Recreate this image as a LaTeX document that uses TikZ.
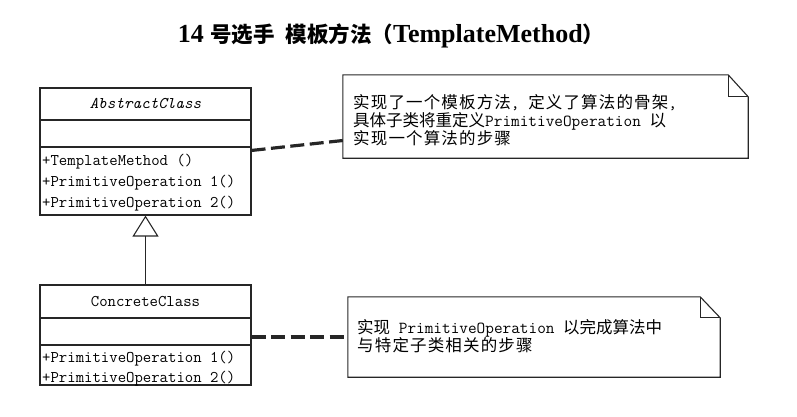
\documentclass[tikz,border=0pt]{standalone}
\usepackage{fontspec}
\setmainfont{Liberation Serif}
\newfontfamily\cjk{Noto Sans CJK SC}
\newfontfamily\cjks[LetterSpace=7]{Noto Sans CJK SC}
\usetikzlibrary{arrows.meta}
\newcommand{\cj}[1]{{\cjk\fontsize{16.5}{18}\selectfont #1}}
\newcommand{\cjw}[1]{{\cjks\fontsize{16.5}{18}\selectfont #1}}
\begin{document}
\begin{tikzpicture}[x=1pt,y=-1pt,
  line/.style={draw=black!85, line width=1.1pt},
  box/.style={line, inner sep=0pt, minimum width=211pt},
  member/.style={anchor=base west, inner sep=0pt, font=\fontsize{16.3}{18}\ttfamily},
  notetext/.style={anchor=base west, inner sep=0pt, font=\fontsize{16.8}{18}\ttfamily},
  conn/.style={draw=black!85, line width=3.2pt, dash pattern=on 14pt off 5.5pt},
  inherit/.style={line, -{Triangle[open, length=21pt, width=26pt, line width=1.1pt]}},
  noteframe/.style={inner sep=0pt}
  ]
\useasboundingbox (0,0) rectangle (797,416);
% title
\node[inner sep=0pt, anchor=base] (title) at (391,42)
  {\fontsize{26}{28}\selectfont\bfseries 14 {\cjk\fontsize{21.5}{24}\selectfont 号选手\enskip 模板方法（}TemplateMethod{\cjk\fontsize{21.5}{24}\selectfont ）}};
% AbstractClass
\node[box, minimum height=32pt, font=\fontsize{16.3}{18}\ttfamily\itshape] (abshead) at (145.5,104) {AbstractClass};
\node[box, minimum height=27pt] (absattr) at (145.5,133.5) {};
\node[box, minimum height=68pt] (absops) at (145.5,181) {};
\node[member] (am1) at (42,165) {+TemplateMethod ()};
\node[member] (am2) at (42,186) {+PrimitiveOperation 1()};
\node[member] (am3) at (42,207) {+PrimitiveOperation 2()};
% ConcreteClass
\node[box, minimum height=33pt, font=\fontsize{16.3}{18}\ttfamily] (conhead) at (145.5,301.5) {ConcreteClass};
\node[box, minimum height=27pt] (conattr) at (145.5,331.5) {};
\node[box, minimum height=40pt] (conops) at (145.5,365) {};
\node[member] (cm1) at (42,362) {+PrimitiveOperation 1()};
\node[member] (cm2) at (42,382) {+PrimitiveOperation 2()};
% inheritance
\draw[inherit] (conhead.north) -- (absops.south);
% note 1
\node[noteframe, minimum width=405pt, minimum height=83pt] (note1) at (545.5,116.5) {};
\draw[line] (note1.north west) -- ([xshift=-20pt]note1.north east) -- ([yshift=-22pt]note1.north east) -- (note1.south east) -- (note1.south west) -- cycle;
\draw[line] ([xshift=-20pt]note1.north east) -- ([xshift=-20pt,yshift=-22pt]note1.north east) -- ([yshift=-22pt]note1.north east);
\node[notetext] (n1a) at (353,108) {\cjw{实现了一个模板方法}, \cjw{定义了算法的骨架},};
\node[notetext] (n1b) at (353,126) {\cj{具体子类将重定义}PrimitiveOperation \cj{以}};
\node[notetext] (n1c) at (353,144) {\cjw{实现一个算法的步骤}};
% note 2
\node[noteframe, minimum width=372pt, minimum height=80pt] (note2) at (534,337) {};
\draw[line] (note2.north west) -- ([xshift=-20pt]note2.north east) -- ([yshift=-21pt]note2.north east) -- (note2.south east) -- (note2.south west) -- cycle;
\draw[line] ([xshift=-20pt]note2.north east) -- ([xshift=-20pt,yshift=-21pt]note2.north east) -- ([yshift=-21pt]note2.north east);
\node[notetext] (n2a) at (357,333) {\cj{实现} PrimitiveOperation \cj{以完成算法中}};
\node[notetext] (n2b) at (357,351) {\cjw{与特定子类相关的步骤}};
% connectors
\draw[conn] ([yshift=-4pt]absops.north east) -- ([yshift=-24pt]note1.west);
\draw[conn] ([yshift=-5.5pt]conattr.east) -- ([yshift=0pt]note2.west);
\end{tikzpicture}
\end{document}
